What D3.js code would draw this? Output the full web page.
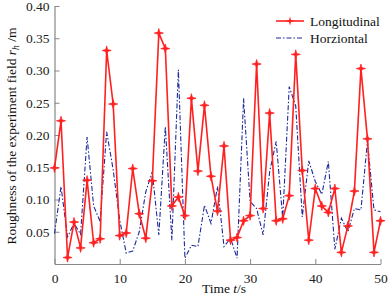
<!DOCTYPE html>
<html><head><meta charset="utf-8">
<script src="https://cdn.jsdelivr.net/npm/d3@7"></script>
<style>body{margin:0;background:#fff}svg{display:block}svg text{font-family:"Liberation Serif","Times New Roman",serif !important}</style>
</head><body><svg id="c" width="389" height="299"></svg>
<script>
const times = d3.range(0, 51);
const longitudinal = [0.149,0.222,0.010,0.065,0.025,0.130,0.033,0.039,0.331,0.248,
  0.044,0.048,0.148,0.078,0.040,0.129,0.358,0.334,0.090,0.104,
  0.075,0.257,0.144,0.246,0.136,0.082,0.183,0.037,0.041,0.067,
  0.075,0.310,0.086,0.234,0.067,0.070,0.106,0.325,0.145,0.037,
  0.117,0.090,0.080,0.117,0.018,0.059,0.113,0.303,0.194,0.018,0.067];
const horizontal = [0.047,0.120,0.042,0.063,0.046,0.197,0.090,0.066,0.205,0.146,
  0.068,0.017,0.020,0.050,0.112,0.143,0.045,0.213,0.037,0.301,
  0.009,0.029,0.027,0.091,0.063,0.120,0.027,0.040,0.009,0.257,
  0.097,0.086,0.045,0.143,0.190,0.071,0.275,0.245,0.073,0.160,
  0.128,0.108,0.159,0.023,0.071,0.050,0.086,0.084,0.190,0.084,0.081];
const xTicks = [0,10,20,30,40,50];
const yTicks = [0.05,0.10,0.15,0.20,0.25,0.30,0.35,0.40];
const seriesNames = ["Longitudinal","Horziontal"];

const svg = d3.select("#c");
const x = d3.scaleLinear().domain([0,50]).range([54.5,380.5]);
const y = d3.scaleLinear().domain([0,0.40]).range([264,6]);
const axisColor = "#888";

const xa = svg.append("g").attr("transform","translate(0,264)")
  .call(d3.axisBottom(x).tickValues(xTicks).tickSizeInner(-5).tickSizeOuter(0).tickPadding(9).tickFormat(d3.format("d")));
const ya = svg.append("g").attr("transform","translate(54.5,0)")
  .call(d3.axisLeft(y).tickValues(yTicks).tickSizeInner(-5).tickSizeOuter(0).tickPadding(5).tickFormat(d3.format(".2f")));
[xa,ya].forEach(g=>{
  g.attr("font-family",null).attr("font-size",null);
  g.select(".domain").attr("stroke",axisColor).attr("stroke-width",1.2);
  g.selectAll(".tick line").attr("stroke",axisColor);
  g.selectAll(".tick text").attr("font-size",13.5).attr("fill","#222");
});

const line = d3.line().x((d,i)=>x(times[i])).y(d=>y(d));
svg.append("path").datum(horizontal).attr("d",line).attr("fill","none")
  .attr("stroke","#1c2a9a").attr("stroke-width",1.1).attr("stroke-dasharray","5,2,1.5,2");
svg.append("path").datum(longitudinal).attr("d",line).attr("fill","none")
  .attr("stroke","#ff2020").attr("stroke-width",1.6);

function star(cx,cy,r){
  const ri=r*0.3; let p="";
  for(let k=0;k<8;k++){
    const a=Math.PI/4*k - Math.PI/2; const rr = k%2===0? r: ri;
    p += (k?"L":"M")+(cx+rr*Math.cos(a)).toFixed(2)+","+(cy+rr*Math.sin(a)).toFixed(2);
  }
  return p+"Z";
}
svg.append("g").selectAll("path").data(longitudinal).join("path")
  .attr("d",(d,i)=>star(x(times[i]),y(d),4.6)).attr("fill","#ff2020").attr("stroke","#ff2020").attr("stroke-width",0.7);

// legend
const lg = svg.append("g");
lg.append("line").attr("x1",276).attr("x2",304).attr("y1",21).attr("y2",21).attr("stroke","#ff2020").attr("stroke-width",1.6);
lg.append("path").attr("d",star(290,21,4.6)).attr("fill","#ff2020");
lg.append("text").attr("x",310).attr("y",26).attr("font-size",13.5).attr("fill","#111").text(seriesNames[0]);
lg.append("line").attr("x1",276).attr("x2",304).attr("y1",38).attr("y2",38).attr("stroke","#1c2a9a").attr("stroke-width",1.1).attr("stroke-dasharray","5,2,1.5,2");
lg.append("text").attr("x",310).attr("y",43).attr("font-size",13.5).attr("fill","#111").text(seriesNames[1]);

// axis titles
const xt = svg.append("text").attr("x",224).attr("y",293).attr("text-anchor","middle").attr("font-size",13.5).attr("fill","#111");
xt.append("tspan").text("Time ");
xt.append("tspan").attr("font-style","italic").text("t");
xt.append("tspan").text("/s");

const yt = svg.append("text").attr("transform","translate(16,136) rotate(-90)").attr("text-anchor","middle").attr("font-size",13.5).attr("fill","#111");
yt.append("tspan").text("Roughness of the experiment field  ");
yt.append("tspan").attr("font-style","italic").text("r");
yt.append("tspan").attr("font-style","italic").attr("font-size",9.5).attr("dy",3).text("h");
yt.append("tspan").attr("dy",-3).text(" /m");
</script></body></html>
